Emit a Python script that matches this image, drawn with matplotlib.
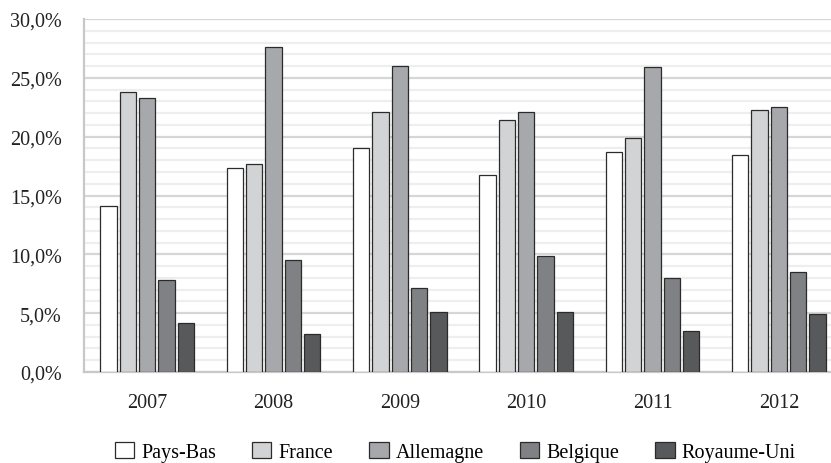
import numpy as np
import matplotlib.pyplot as plt
from matplotlib.ticker import MultipleLocator, FuncFormatter

plt.rcParams['font.family'] = ['Liberation Serif', 'DejaVu Serif']

years = ['2007', '2008', '2009', '2010', '2011', '2012']
pays_bas = [14.1, 17.3, 19.0, 16.7, 18.7, 18.4]
france = [23.8, 17.7, 22.1, 21.4, 19.9, 22.3]
allemagne = [23.3, 27.6, 26.0, 22.1, 25.9, 22.5]
belgique = [7.8, 9.5, 7.1, 9.9, 8.0, 8.5]
royaume_uni = [4.2, 3.2, 5.1, 5.1, 3.5, 4.9]

series = [('Pays-Bas', pays_bas, '#ffffff'),
          ('France', france, '#d2d3d5'),
          ('Allemagne', allemagne, '#a7a8ab'),
          ('Belgique', belgique, '#808184'),
          ('Royaume-Uni', royaume_uni, '#58595b')]

fig = plt.figure(figsize=(8.31, 4.64), dpi=100)
ax = fig.add_axes([84 / 831, 1 - 373 / 464, 758 / 831, 353 / 464])

x = np.arange(len(years))
pitch = 0.153
width = 0.127
for i, (name, vals, col) in enumerate(series):
    ax.bar(x + (i - 2) * pitch, vals, width, color=col, edgecolor='#2b2b2b',
           linewidth=0.9, label=name, zorder=3)

ax.set_xlim(-0.5, 5.5)
ax.set_ylim(0, 30)
ax.yaxis.set_major_locator(MultipleLocator(5))
ax.yaxis.set_minor_locator(MultipleLocator(1))
ax.yaxis.set_major_formatter(FuncFormatter(lambda v, p: f'{v:.1f}%'.replace('.', ',')))
ax.grid(axis='y', which='major', color='#d6d6d6', linewidth=1.6, zorder=0)
ax.grid(axis='y', which='minor', color='#eeeeee', linewidth=1.6, zorder=0)
ax.set_xticks(x)
ax.set_xticklabels(years)
ax.tick_params(axis='both', which='both', length=0, labelsize=14.5, colors='#222222')
ax.tick_params(axis='y', pad=16)
ax.tick_params(axis='x', pad=15)
for s in ['top', 'right']:
    ax.spines[s].set_visible(False)
ax.spines['left'].set_color('#c8c8c8')
ax.spines['left'].set_linewidth(1.6)
ax.spines['bottom'].set_color('#c8c8c8')
ax.spines['bottom'].set_linewidth(1.6)

fig.legend(loc='center', bbox_to_anchor=(0.548, 1 - 453 / 464), ncol=5, frameon=False,
           fontsize=14.5, handlelength=0.95, handleheight=0.8, handletextpad=0.35,
           columnspacing=1.8)

fig.savefig('out.png', dpi=100)
